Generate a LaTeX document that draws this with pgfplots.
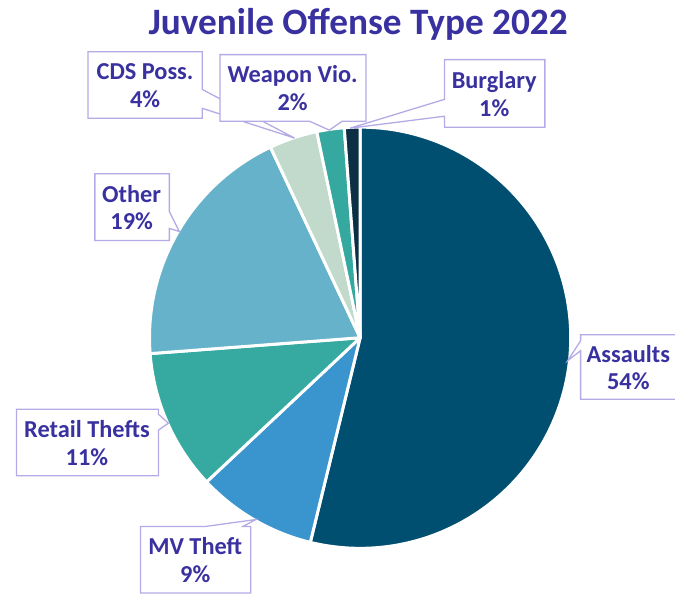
\documentclass[border=0pt]{standalone}
\usepackage{pgfplots}
\usepackage{pgfplotstable}
\pgfplotsset{compat=1.18}
\usepackage{fontspec}
\setmainfont{Carlito}
\definecolor{c0}{RGB}{0,79,112}
\definecolor{c1}{RGB}{58,148,206}
\definecolor{c2}{RGB}{54,170,160}
\definecolor{c3}{RGB}{103,178,203}
\definecolor{c4}{RGB}{194,218,203}
\definecolor{c5}{RGB}{53,169,159}
\definecolor{c6}{RGB}{13,47,68}
\definecolor{txt}{RGB}{57,49,160}
\definecolor{bord}{RGB}{180,170,230}
\pgfplotstableread{
label value
Assaults 53.8
MVTheft 9.2
RetailThefts 10.8
Other 19.2
CDSPoss 3.7
WeaponVio 2.1
Burglary 1.2
}\piedata
\begin{document}
\gdef\cum{0}
\foreach \i in {0,...,6}{%
  \pgfplotstablegetelem{\i}{value}\of\piedata
  \pgfmathsetmacro\s{90-3.6*\cum}%
  \pgfmathsetmacro\newcum{\cum+\pgfplotsretval}%
  \pgfmathsetmacro\e{90-3.6*\newcum}%
  \expandafter\xdef\csname sa\i\endcsname{\s}%
  \expandafter\xdef\csname ea\i\endcsname{\e}%
  \xdef\cum{\newcum}%
}
\begin{tikzpicture}
\begin{axis}[
  x=1pt, y=1pt, xmin=0, xmax=675, ymin=0, ymax=598, y dir=reverse,
  hide axis, clip=false, scale only axis,
]
\pgfplotsinvokeforeach{0,...,6}{
  \filldraw[fill=c#1, draw=white, line width=3pt, line join=round]
    (axis cs:358,340) -- ++(\csname sa#1\endcsname:212pt)
    arc[start angle=\csname sa#1\endcsname, end angle=\csname ea#1\endcsname, radius=212pt] -- cycle;
}
\tikzset{callout/.style={fill=white, draw=bord, line width=1.3pt, line join=miter}}
\tikzset{lab/.style={text=txt, font=\fontsize{24.5}{28}\selectfont\bfseries, align=center, inner sep=0pt}}
% callouts
\draw[callout] (axis cs:84,52) -- (axis cs:199,52) -- (axis cs:199,90) -- (axis cs:292,139) -- (axis cs:199,109) -- (axis cs:199,119) -- (axis cs:84,119) -- cycle;
\draw[callout] (axis cs:217,55) -- (axis cs:364,55) -- (axis cs:364,122) -- (axis cs:340,122) -- (axis cs:327,131) -- (axis cs:307,122) -- (axis cs:217,122) -- cycle;
\draw[callout] (axis cs:443,60) -- (axis cs:544,60) -- (axis cs:544,128) -- (axis cs:443,128) -- (axis cs:443,117) -- (axis cs:348,129) -- (axis cs:443,100) -- cycle;
\draw[callout] (axis cs:91,175) -- (axis cs:166,175) -- (axis cs:166,213) -- (axis cs:176,233) -- (axis cs:166,230) -- (axis cs:166,242) -- (axis cs:91,242) -- cycle;
\draw[callout] (axis cs:580,337) -- (axis cs:690,337) -- (axis cs:690,402) -- (axis cs:580,402) -- (axis cs:580,353) -- (axis cs:567,363) -- (axis cs:580,343) -- cycle;
\draw[callout] (axis cs:12,412) -- (axis cs:155,412) -- (axis cs:155,417) -- (axis cs:165,426) -- (axis cs:155,433) -- (axis cs:155,479) -- (axis cs:12,479) -- cycle;
\draw[callout] (axis cs:137,530) -- (axis cs:202,530) -- (axis cs:253,523) -- (axis cs:240,530) -- (axis cs:248,530) -- (axis cs:248,597) -- (axis cs:137,597) -- cycle;
% labels
\node[lab] at (axis cs:141.5,86) {CDS Poss.\\4\%};
\node[lab] at (axis cs:290,89) {Weapon Vio.\\2\%};
\node[lab] at (axis cs:493,95) {Burglary\\1\%};
\node[lab] at (axis cs:128,209) {Other\\19\%};
\node[lab] at (axis cs:628,370) {Assaults\\54\%};
\node[lab] at (axis cs:83,446) {Retail Thefts\\11\%};
\node[lab] at (axis cs:192,564) {MV Theft\\9\%};
\node[text=txt, font=\fontsize{37.5}{42}\selectfont\bfseries, inner sep=0pt] at (axis cs:356,24) {Juvenile Offense Type 2022};
\end{axis}
\pgfresetboundingbox
\path (0,0) rectangle (675pt,598pt);
\end{tikzpicture}
\end{document}
